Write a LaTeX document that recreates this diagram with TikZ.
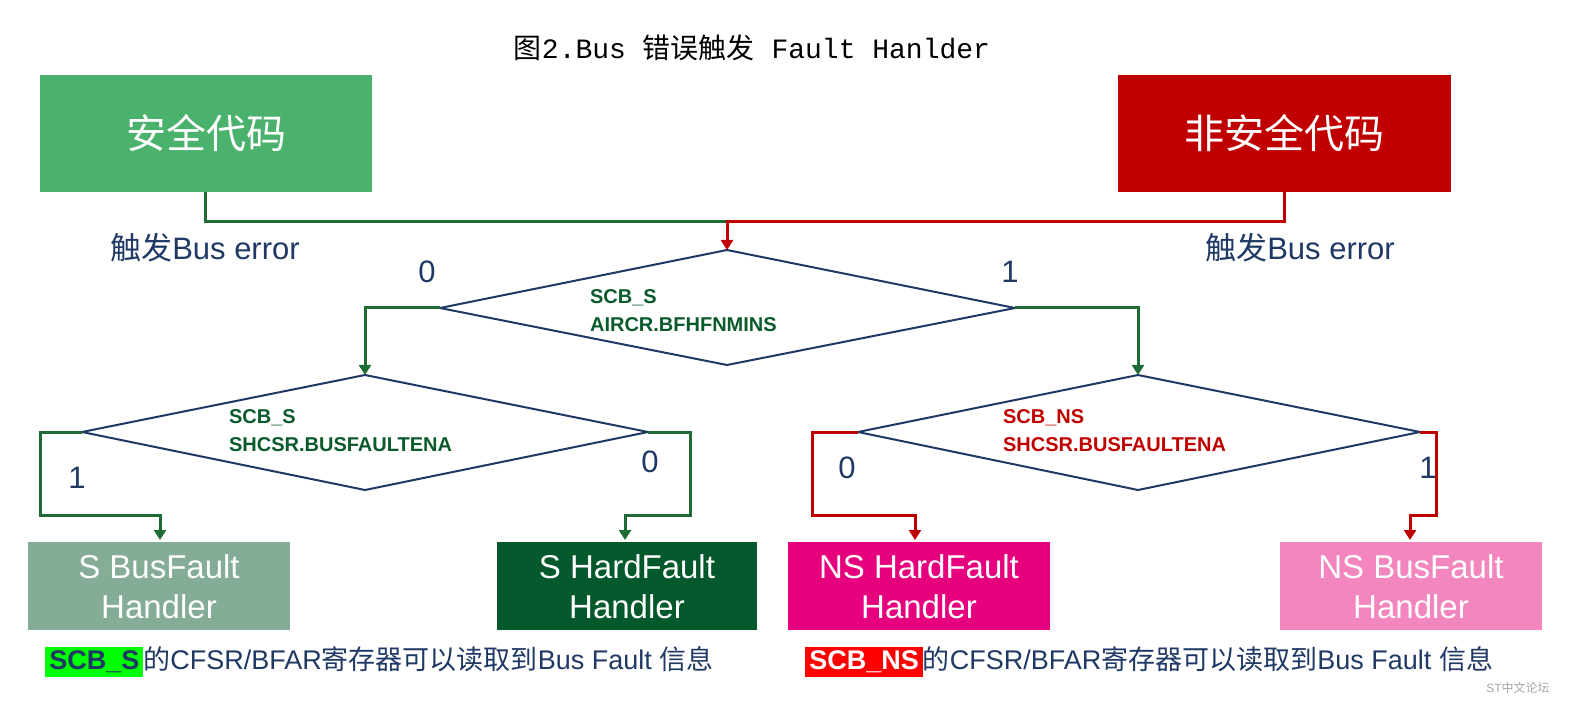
\documentclass[tikz,border=0pt]{standalone}
\usepackage{fontspec}
\setmainfont{Liberation Sans}
\newfontfamily\cjk{Noto Sans CJK SC}
\newfontfamily\mono{Liberation Mono}
\usetikzlibrary{arrows.meta}
\definecolor{gbox}{HTML}{4BB26E}
\definecolor{rbox}{HTML}{C00000}
\definecolor{gline}{HTML}{1E6B35}
\definecolor{rline}{HTML}{C00000}
\definecolor{navy}{HTML}{1F3864}
\definecolor{dgreen}{HTML}{0B5A2B}
\definecolor{c1}{HTML}{84AC96}
\definecolor{c2}{HTML}{03582C}
\definecolor{c3}{HTML}{E6007E}
\definecolor{c4}{HTML}{F386BE}
\begin{document}
\begin{tikzpicture}[x=0.5pt,y=-0.5pt,
 gl/.style={draw=gline,line width=1.5pt},
 rl/.style={draw=rline,line width=1.5pt},
 arr/.style={-{Triangle[length=5pt,width=6pt]}},
 dia/.style={draw=navy,line width=1pt},
 lab/.style={text=navy,font=\fontsize{15.5}{17}\selectfont},
 dtx/.style={align=left,font=\bfseries\fontsize{10}{14}\selectfont,anchor=west},
 hbox/.style={inner sep=0,text=white,align=center,font=\fontsize{16.5}{20}\selectfont},
 note/.style={anchor=west,inner sep=0,font=\fontsize{13.5}{15}\selectfont,text=navy}]
\useasboundingbox (0,0) rectangle (1591,711);
\node (title) at (752,48) {\fontsize{14}{16}\selectfont\cjk 图\mono 2.Bus \cjk 错误触发\mono{} Fault Hanlder};
\fill[gbox] (40,75) rectangle (372,192);
\node (sec) at (206,133) {\color{white}\fontsize{20}{22}\selectfont\cjk 安全代码};
\fill[rbox] (1118,75) rectangle (1451,192);
\node (nsec) at (1284,133) {\color{white}\fontsize{20}{22}\selectfont\cjk 非安全代码};
\node[lab] (t1) at (205,248) {{\cjk 触发}Bus error};
\node[lab] (t2) at (1300,248) {{\cjk 触发}Bus error};
% diamonds
\coordinate (dT) at (727,250); \coordinate (dB) at (727,365);
\coordinate (dL) at (440,308); \coordinate (dR) at (1015,308);
\draw[dia] (dT)--(dR)--(dB)--(dL)--cycle;
\node[text=dgreen,dtx] (d1) at (583,311) {SCB\_S\\AIRCR.BFHFNMINS};
\coordinate (lT) at (365,375); \coordinate (lB) at (365,490);
\coordinate (lL) at (82,432); \coordinate (lR) at (648,432);
\draw[dia] (lT)--(lR)--(lB)--(lL)--cycle;
\node[text=dgreen,dtx] (d2) at (222,431) {SCB\_S\\SHCSR.BUSFAULTENA};
\coordinate (rT) at (1138,375); \coordinate (rB) at (1138,490);
\coordinate (rL) at (858,432); \coordinate (rR) at (1420,432);
\draw[dia] (rT)--(rR)--(rB)--(rL)--cycle;
\node[text=rline,dtx] (d3) at (996,431) {SCB\_NS\\SHCSR.BUSFAULTENA};
% top connectors
\draw[gl] (205,192) -- (205,222) -- (727,222);
\draw[rl,arr] (1284,192) -- (1284,222) -- (727,222) -- (dT);
% level 1
\draw[gl,arr] (dL) -- (365,308) -- (lT);
\draw[gl,arr] (dR) -- (1138,308) -- (rT);
\node[lab] (z0) at (427,272) {0};
\node[lab] (z1) at (1010,272) {1};
% boxes
\fill[c1] (28,542) rectangle (290,630);
\node[hbox] (b1) at (159,587) {S BusFault\\Handler};
\fill[c2] (497,542) rectangle (757,630);
\node[hbox] (b2) at (627,587) {S HardFault\\Handler};
\fill[c3] (788,542) rectangle (1050,630);
\node[hbox] (b3) at (919,587) {NS HardFault\\Handler};
\fill[c4] (1280,542) rectangle (1542,630);
\node[hbox] (b4) at (1411,587) {NS BusFault\\Handler};
% level 2
\draw[gl,arr] (lL) -- (40,432) -- (40,515) -- (160,515) -- (160,540);
\draw[gl,arr] (lR) -- (690,432) -- (690,515) -- (625,515) -- (625,540);
\draw[rl,arr] (rL) -- (812,432) -- (812,515) -- (915,515) -- (915,540);
\draw[rl,arr] (rR) -- (1436,432) -- (1436,515) -- (1410,515) -- (1410,540);
\node[lab] (a1) at (77,478) {1};
\node[lab] (a2) at (650,462) {0};
\node[lab] (a3) at (847,468) {0};
\node[lab] (a4) at (1428,468) {1};
% bottom notes
\node[note] (n1) at (45,662)
 {\setlength{\fboxsep}{2pt}\colorbox{green}{\textbf{\color{navy}SCB\_S}}{\cjk 的}CFSR/BFAR{\cjk 寄存器可以读取到}Bus Fault {\cjk 信息}};
\node[note] (n2) at (805,662)
 {\setlength{\fboxsep}{2pt}\colorbox{red}{\textbf{\color{white}SCB\_NS}}{\cjk 的}CFSR/BFAR{\cjk 寄存器可以读取到}Bus Fault {\cjk 信息}};
\node[text=gray!70,font=\fontsize{6}{7}\selectfont] (wm) at (1518,688) {ST{\cjk 中文论坛}};
\end{tikzpicture}
\end{document}
